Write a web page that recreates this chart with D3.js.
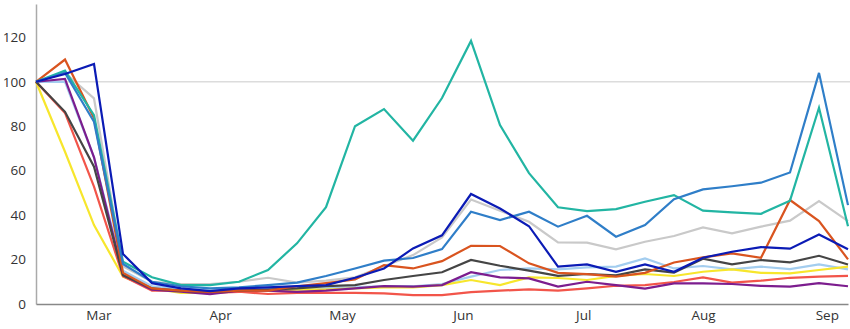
<!DOCTYPE html>
<html><head><meta charset="utf-8">
<script src="https://cdn.jsdelivr.net/npm/d3@7"></script>
<style>
html,body{margin:0;padding:0;background:#fff;}
svg{display:block;font-family:"Open Sans",sans-serif;}
</style></head>
<body><svg id="chart" width="850" height="329"></svg>
<script>
// week index 0..28
const weeks = d3.range(29);
const monthLabels = ["Mar","Apr","May","Jun","Jul","Aug","Sep"];
const monthTickIdx = [2.15, 6.35, 10.55, 14.72, 18.87, 23.0, 27.27];
const yTicks = [0,20,40,60,80,100,120];
const refLine = [100];

const teal      = [100,105,85,19,12,8.5,8.5,10,15.3,27.3,43.6,80,87.7,73.5,92.7,118.4,80.5,58.9,43.5,41.8,42.7,46,49,42,41.2,40.6,46.5,88.3,35];
const midBlue   = [100,104,82,18,10,8,7,7.5,8.5,9.6,12.6,16,19.5,20.7,24.7,41.5,37.8,41.5,34.8,39.7,30.3,35.5,47.2,51.6,53,54.6,59.2,104,44.5];
const gray      = [100,104,92.5,17,10,9,9,10,11.8,9.6,10.5,12,17,22,30,47,42,37,27.7,27.6,24.6,28,30.6,34.5,31.8,34.8,37.5,46.3,37.3];
const orange    = [100,110,83.6,14,7,6,5.5,6,6,8,9.4,11,17.5,16,19.3,26.2,26.1,18.3,14,13.4,12.3,14,18.7,21,22.8,20.8,46.8,37.3,20.1];
const darkGray  = [100,86.5,61.8,13,7,6,5.5,6,6.5,7,8,8.5,10.8,12.6,14.3,19.8,17.2,15,12.7,13.5,12.9,15.6,14.1,20.4,17.8,19.8,18.7,21.7,17.8];
const lightBlue = [100,100,66,15,8,7,6,6.5,7,7,7,7.5,8,8,9,12.3,15.3,16,15.6,16.5,16.8,20.5,16,17.1,15.6,16.8,15.7,17.8,15.6];
const purple    = [100,101.3,66,13,6.5,5.5,4.4,6,6,5.5,6,7,8,7.8,8.5,14.3,12,11.5,7.8,10,8.5,6.9,9.3,9.3,9,8.2,7.8,9.4,8];
const yellow    = [100,68.5,35.5,12.3,7,5,5,6,6,6.5,6.5,7,7.5,7.5,8.5,10.8,8.5,12,11.7,10.8,12.6,13.5,12.6,14.5,15.6,14,13.8,15.3,16.8];
const red       = [100,86,52.8,12.5,6,6,5,5.5,4.5,5,5,5,4.8,4,4,5.3,6,6.6,6,7,8.2,8.5,9.9,12,9.6,10.5,11.8,12.3,12.7];
const darkBlue  = [100,103.5,108,22.5,9.4,7,5.8,7,7.5,8,8.5,11.8,16,25,30.9,49.5,43,35,16.8,17.8,14.5,17.8,14.5,20.8,23.5,25.6,24.9,31.3,24.6];

const seriesNames = ["lightBlue","gray","yellow","red","purple","darkGray","orange","teal","midBlue","darkBlue"];
const seriesValues = [lightBlue,gray,yellow,red,purple,darkGray,orange,teal,midBlue,darkBlue];
const seriesColors = ["#a3cdef","#c9c9c9","#f7e62c","#f2554a","#7c1d8e","#454545","#d9541f","#22b5a3","#2f7ec8","#0b1bb5"];

const svg = d3.select("#chart");
const x = d3.scaleLinear().domain([0,28]).range([36,848]);
const y = d3.scaleLinear().domain([0,135]).range([304,4]);

// reference line at 100
svg.append("g").selectAll("line").data(refLine).join("line")
  .attr("x1",x(0)).attr("x2",850).attr("y1",d=>y(d)).attr("y2",d=>y(d))
  .attr("stroke","#dcdcdc").attr("stroke-width",1.5);

// y axis
const yAxis = svg.append("g").attr("transform",`translate(${x(0)},0)`)
  .call(d3.axisLeft(y).tickValues(yTicks).tickSize(0).tickPadding(10));
yAxis.select(".domain").attr("stroke","#aaa").attr("stroke-width",1.5);
yAxis.selectAll("text").attr("font-size",13.5).attr("fill","#333").attr("font-family","Open Sans, sans-serif");

// lines
const line = d3.line().x((d,i)=>x(weeks[i])).y(d=>y(d));
svg.append("g").selectAll("path").data(seriesValues).join("path")
  .attr("d",d=>line(d)).attr("fill","none")
  .attr("stroke",(d,i)=>seriesColors[i]).attr("stroke-width",2.2)
  .attr("stroke-linejoin","miter");

// x axis
const xAxis = svg.append("g").attr("transform",`translate(0,${y(0)})`)
  .call(d3.axisBottom(x).tickValues(monthTickIdx).tickFormat((d,i)=>monthLabels[i]).tickSize(0).tickPadding(6));
xAxis.select(".domain").attr("stroke","#888").attr("stroke-width",1.6);
xAxis.selectAll("text").attr("font-size",13.5).attr("fill","#333").attr("font-family","Open Sans, sans-serif");
</script></body></html>
